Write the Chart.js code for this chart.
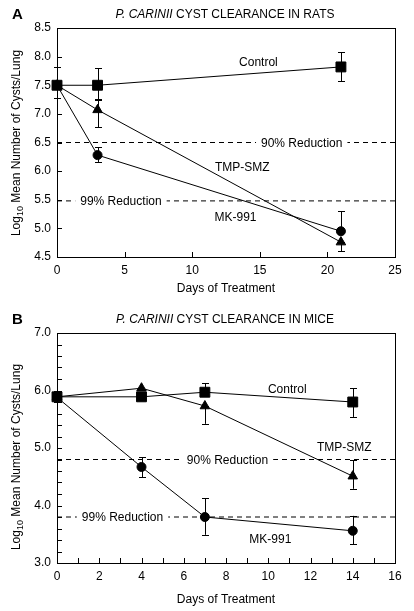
<!DOCTYPE html>
<html>
<head>
<meta charset="utf-8">
<script src="https://cdn.jsdelivr.net/npm/chart.js@4"></script>
<style>
    body { margin: 0; background: #fff; }
    canvas { display: block; }
</style>
</head>
<body>
<canvas id="ratsChart" width="414" height="300"></canvas>
<canvas id="miceChart" width="414" height="311"></canvas>
<script>
// Panel A - rats
const ratDays = [0, 3, 21];
const ratControl = [7.5, 7.5, 7.82];
const ratTmpSmz = [7.5, 7.07, 4.76];
const ratMk991 = [7.5, 6.28, 4.95];
const ratControlErr = [[7.27, 7.82], [7.25, 7.8], [7.57, 8.08]];
const ratTmpSmzErr = [null, [6.77, 7.26], [4.6, 4.76]];
const ratMk991Err = [null, [6.16, 6.42], [4.95, 5.3]];
const ratReductions = [6.5, 5.48];
const ratXTicks = [0, 5, 10, 15, 20, 25];
const ratYTicks = [4.5, 5.0, 5.5, 6.0, 6.5, 7.0, 7.5, 8.0, 8.5];

// Panel B - mice
const miceDays = [0, 4, 7, 14];
const miceControl = [5.89, 5.89, 5.97, 5.8];
const miceTmpSmz = [5.89, 6.04, 5.73, 4.51];
const miceMk991 = [5.88, 4.67, 3.8, 3.56];
const miceControlErr = [[5.8, 6.0], null, [5.9, 6.13], [5.54, 6.04]];
const miceTmpSmzErr = [null, null, [5.42, 5.73], [4.29, 4.79]];
const miceMk991Err = [null, [4.49, 4.84], [3.49, 4.13], [3.33, 3.82]];
const miceReductions = [4.8, 3.8];
const miceXTicks = [0, 1, 2, 3, 4, 5, 6, 7, 8, 9, 10, 11, 12, 13, 14, 15, 16];
const miceXLabels = [0, 2, 4, 6, 8, 10, 12, 14, 16];
const miceYTicks = [3.0, 3.2, 3.4, 3.6, 3.8, 4.0, 4.2, 4.4, 4.6, 4.8, 5.0, 5.2, 5.4, 5.6, 5.8, 6.0, 6.2, 6.4, 6.6, 6.8, 7.0];
const miceYLabels = [3.0, 4.0, 5.0, 6.0, 7.0];

const FONT = '"Liberation Sans", Arial, Helvetica, sans-serif';

document.addEventListener("DOMContentLoaded", function() {
    makePanel('ratsChart', {
        letter: 'A',
        species: ' CYST CLEARANCE IN RATS',
        days: ratDays,
        control: ratControl, tmp: ratTmpSmz, mk: ratMk991,
        controlErr: ratControlErr, tmpErr: ratTmpSmzErr, mkErr: ratMk991Err,
        reductions: ratReductions,
        xTicks: ratXTicks, xLabels: ratXTicks,
        yTicks: ratYTicks, yLabels: ratYTicks,
        xMin: 0, xMax: 25, yMin: 4.5, yMax: 8.5,
        padTop: 28, axisHeight: 43,
        labels: [
            { text: 'Control', x: 14.9, y: 7.91 },
            { text: 'TMP-SMZ', x: 13.7, y: 6.07 },
            { text: 'MK-991', x: 13.2, y: 5.2 },
            { text: '90% Reduction', x: 18.1, y: 6.5, box: true },
            { text: '99% Reduction', x: 4.73, y: 5.48, box: true }
        ],
        titleY: 15, yTitleCenter: 143
    });

    makePanel('miceChart', {
        letter: 'B',
        species: ' CYST CLEARANCE IN MICE',
        days: miceDays,
        control: miceControl, tmp: miceTmpSmz, mk: miceMk991,
        controlErr: miceControlErr, tmpErr: miceTmpSmzErr, mkErr: miceMk991Err,
        reductions: miceReductions,
        xTicks: miceXTicks, xLabels: miceXLabels,
        yTicks: miceYTicks, yLabels: miceYLabels,
        xMin: 0, xMax: 16, yMin: 3.0, yMax: 7.0,
        padTop: 33, axisHeight: 48,
        labels: [
            { text: 'Control', x: 10.9, y: 6.04 },
            { text: 'TMP-SMZ', x: 13.6, y: 5.02 },
            { text: 'MK-991', x: 10.1, y: 3.43 },
            { text: '90% Reduction', x: 8.07, y: 4.8, box: true },
            { text: '99% Reduction', x: 3.1, y: 3.8, box: true }
        ],
        titleY: 20, yTitleCenter: 157
    });

    function series(days, values) {
        return days.map((d, i) => ({ x: d, y: values[i] }));
    }

    function makePanel(id, p) {
        const lineStyle = { borderColor: '#000', backgroundColor: '#000', borderWidth: 1, clip: false, tension: 0 };
        const datasets = [
            Object.assign({ label: 'Control', data: series(p.days, p.control), pointStyle: 'rect', pointRadius: 7, err: p.controlErr }, lineStyle),
            Object.assign({ label: 'TMP-SMZ', data: series(p.days, p.tmp), pointStyle: 'triangle', pointRadius: 5.5, err: p.tmpErr }, lineStyle),
            Object.assign({ label: 'MK-991', data: series(p.days, p.mk), pointStyle: 'circle', pointRadius: 4.5, err: p.mkErr }, lineStyle)
        ];
        p.reductions.forEach(r => {
            datasets.push({
                label: 'reduction', data: [{ x: p.xMin, y: r }, { x: p.xMax, y: r }],
                borderColor: '#000', borderWidth: 1, borderDash: [5, 4], pointRadius: 0
            });
        });

        const panelPlugin = {
            id: 'panelPlugin',
            afterDatasetsDraw(chart) {
                const ctx = chart.ctx;
                const xs = chart.scales.x, ys = chart.scales.y;
                const area = chart.chartArea;
                ctx.save();
                ctx.strokeStyle = '#000';
                ctx.lineWidth = 1;

                // error bars
                chart.data.datasets.forEach(ds => {
                    if (!ds.err) return;
                    ds.err.forEach((e, i) => {
                        if (!e) return;
                        const px = Math.round(xs.getPixelForValue(ds.data[i].x)) + 0.5;
                        const lo = ys.getPixelForValue(e[0]);
                        const hi = ys.getPixelForValue(e[1]);
                        ctx.beginPath();
                        ctx.moveTo(px, lo); ctx.lineTo(px, hi);
                        ctx.moveTo(px - 3.5, Math.round(lo) + 0.5); ctx.lineTo(px + 3.5, Math.round(lo) + 0.5);
                        ctx.moveTo(px - 3.5, Math.round(hi) + 0.5); ctx.lineTo(px + 3.5, Math.round(hi) + 0.5);
                        ctx.stroke();
                    });
                });

                // frame and inward ticks
                ctx.strokeRect(Math.round(area.left) + 0.5, Math.round(area.top) + 0.5,
                    Math.round(area.right - area.left), Math.round(area.bottom - area.top));
                ctx.beginPath();
                p.xTicks.forEach(v => {
                    const px = Math.round(xs.getPixelForValue(v)) + 0.5;
                    ctx.moveTo(px, area.bottom); ctx.lineTo(px, area.bottom - 5);
                });
                p.yTicks.forEach(v => {
                    const py = Math.round(ys.getPixelForValue(v)) + 0.5;
                    ctx.moveTo(area.left, py); ctx.lineTo(area.left + 5, py);
                });
                ctx.stroke();

                // series and reduction labels
                ctx.font = '12px ' + FONT;
                ctx.fillStyle = '#000';
                ctx.textAlign = 'center';
                ctx.textBaseline = 'middle';
                p.labels.forEach(l => {
                    const px = xs.getPixelForValue(l.x);
                    const py = ys.getPixelForValue(l.y);
                    if (l.box) {
                        const w = ctx.measureText(l.text).width;
                        ctx.fillStyle = '#fff';
                        ctx.fillRect(px - w / 2 - 5, py - 6, w + 10, 12);
                        ctx.fillStyle = '#000';
                    }
                    ctx.fillText(l.text, px, py + 1);
                });

                // panel letter and title
                ctx.textAlign = 'left';
                ctx.font = 'bold 15px ' + FONT;
                ctx.fillText(p.letter, 12, p.titleY);
                ctx.font = 'italic 12px ' + FONT;
                const italicPart = 'P. CARINII';
                const w1 = ctx.measureText(italicPart).width;
                ctx.font = '12px ' + FONT;
                const w2 = ctx.measureText(p.species).width;
                let tx = 225 - (w1 + w2) / 2;
                ctx.font = 'italic 12px ' + FONT;
                ctx.fillText(italicPart, tx, p.titleY);
                ctx.font = '12px ' + FONT;
                ctx.fillText(p.species, tx + w1, p.titleY);

                // y axis title with subscript
                ctx.translate(17, p.yTitleCenter);
                ctx.rotate(-Math.PI / 2);
                ctx.font = '12px ' + FONT;
                const a = 'Log', c = ' Mean Number of Cysts/Lung';
                const wa = ctx.measureText(a).width, wc = ctx.measureText(c).width;
                ctx.font = '9px ' + FONT;
                const wb = ctx.measureText('10').width;
                let sx = -(wa + wb + wc) / 2;
                ctx.font = '12px ' + FONT;
                ctx.fillText(a, sx, 0);
                ctx.font = '9px ' + FONT;
                ctx.fillText('10', sx + wa, 4);
                ctx.font = '12px ' + FONT;
                ctx.fillText(c, sx + wa + wb, 0);
                ctx.restore();
            }
        };

        new Chart(document.getElementById(id), {
            type: 'line',
            data: { datasets: datasets },
            options: {
                responsive: false,
                animation: false,
                layout: { padding: { top: p.padTop, right: 19, left: 0, bottom: 0 } },
                plugins: { legend: { display: false }, tooltip: { enabled: false } },
                scales: {
                    x: {
                        type: 'linear', min: p.xMin, max: p.xMax,
                        afterBuildTicks: s => { s.ticks = p.xLabels.map(v => ({ value: v })); },
                        afterFit: s => { s.height = p.axisHeight; },
                        grid: { display: false, drawTicks: false },
                        border: { display: false },
                        ticks: { color: '#000', font: { family: FONT, size: 12 }, padding: 6, maxRotation: 0, autoSkip: false },
                        title: { display: true, text: 'Days of Treatment', color: '#000', font: { family: FONT, size: 12 }, padding: { top: 4 } }
                    },
                    y: {
                        type: 'linear', min: p.yMin, max: p.yMax,
                        afterBuildTicks: s => { s.ticks = p.yLabels.map(v => ({ value: v })); },
                        afterFit: s => { s.width = 57; },
                        grid: { display: false, drawTicks: false },
                        border: { display: false },
                        ticks: { color: '#000', font: { family: FONT, size: 12 }, padding: 6, autoSkip: false,
                            callback: v => Number(v).toFixed(1) }
                    }
                }
            },
            plugins: [panelPlugin]
        });
    }
});
</script>
</body>
</html>
